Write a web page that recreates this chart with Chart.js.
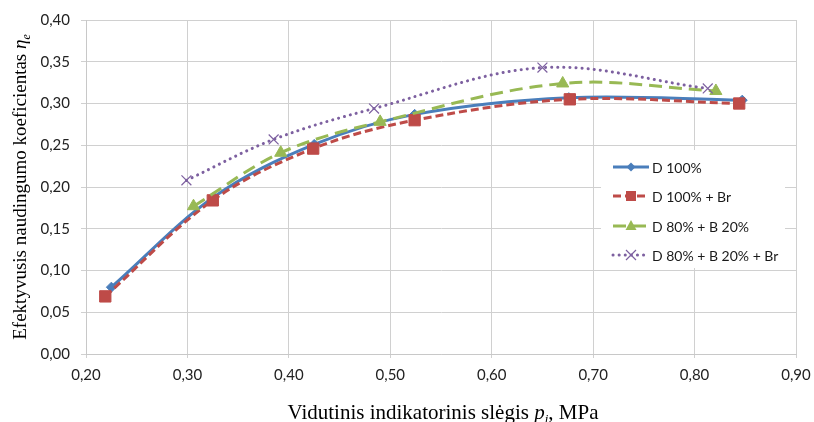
<!DOCTYPE html>
<html>
<head>
<meta charset="utf-8">
<script src="https://cdn.jsdelivr.net/npm/chart.js@4.4.0/dist/chart.umd.min.js"></script>
<style>
  html, body { margin: 0; padding: 0; background: #fff; }
  #wrap { width: 814px; height: 422px; }
</style>
</head>
<body>
<div id="wrap"><canvas id="chart" width="814" height="422"></canvas></div>
<script>
'use strict';

// values
const series_names = ['D 100%', 'D 100% + Br', 'D 80% + B 20%', 'D 80% + B 20% + Br'];

const x_d100 = [0.225, 0.326, 0.425, 0.524, 0.676, 0.847];
const y_d100 = [0.080, 0.188, 0.251, 0.287, 0.307, 0.304];

const x_d100_br = [0.219, 0.325, 0.424, 0.524, 0.677, 0.844];
const y_d100_br = [0.069, 0.184, 0.246, 0.280, 0.305, 0.300];

const x_d80_b20 = [0.306, 0.392, 0.490, 0.670, 0.821];
const y_d80_b20 = [0.177, 0.241, 0.278, 0.324, 0.315];

const x_d80_b20_br = [0.299, 0.385, 0.484, 0.650, 0.813];
const y_d80_b20_br = [0.208, 0.257, 0.294, 0.343, 0.318];

const x_ticks = [0.2, 0.3, 0.4, 0.5, 0.6, 0.7, 0.8, 0.9];
const y_ticks = [0, 0.05, 0.1, 0.15, 0.2, 0.25, 0.3, 0.35, 0.4];

const colors = ['#4A7EBB', '#BE4B48', '#98B954', '#7D60A0'];
const dashes = [[], [8, 4], [13, 7], [0.1, 6]];

function pts(xs, ys){
    var out = [];
    for( var i = 0 ; i < xs.length ; i++ ) out.push({ x: xs[i], y: ys[i] });
    return out;
}

function comma(v, d){
    return Number(v).toFixed(d).replace('.', ',');
}

// draws text made of several styled pieces (for italic symbols and subscripts)
// (cx, by) = centre of the text along its run, on the baseline
function drawRich(ctx, parts, cx, by, rot){
    ctx.save();
    ctx.translate(cx, by);
    if( rot ) ctx.rotate(rot);
    var total = 0;
    for( let p of parts ){
        ctx.font = p.font;
        p.w = ctx.measureText(p.text).width;
        total += p.w;
    }
    var x = -total / 2;
    ctx.fillStyle = '#000';
    ctx.textBaseline = 'alphabetic';
    ctx.textAlign = 'left';
    for( let p of parts ){
        ctx.font = p.font;
        ctx.fillText(p.text, x, p.dy || 0);
        x += p.w;
    }
    ctx.restore();
}

function drawMarker(ctx, style, x, y, color){
    ctx.save();
    ctx.setLineDash([]);
    ctx.fillStyle = color;
    ctx.strokeStyle = color;
    ctx.beginPath();
    if( style == 'rectRot' ){
        ctx.moveTo(x, y - 4.5); ctx.lineTo(x + 4.5, y); ctx.lineTo(x, y + 4.5); ctx.lineTo(x - 4.5, y);
        ctx.closePath(); ctx.fill();
    }else if( style == 'rect' ){
        ctx.fillRect(x - 5, y - 5, 10, 10);
    }else if( style == 'triangle' ){
        ctx.moveTo(x, y - 6); ctx.lineTo(x + 5.5, y + 4); ctx.lineTo(x - 5.5, y + 4);
        ctx.closePath(); ctx.fill();
    }else if( style == 'crossRot' ){
        ctx.lineWidth = 1.2;
        ctx.moveTo(x - 5, y - 5); ctx.lineTo(x + 5, y + 5);
        ctx.moveTo(x + 5, y - 5); ctx.lineTo(x - 5, y + 5);
        ctx.stroke();
    }
    ctx.restore();
}

const point_styles = ['rectRot', 'rect', 'triangle', 'crossRot'];
const point_radius = [5, 8, 7, 7];

const titles_plugin = {
    id: 'axis_titles',
    afterDraw: function(chart){
        const ctx = chart.ctx;
        const serif = '"Liberation Serif", "Times New Roman", serif';
        drawRich(ctx, [
            { text: 'Efektyvusis naudingumo koeficientas ', font: '19px ' + serif },
            { text: 'η', font: 'italic 19px ' + serif },
            { text: 'e', font: 'italic 12px ' + serif, dy: 4 },
        ], 26, 187, -Math.PI / 2);
        drawRich(ctx, [
            { text: 'Vidutinis indikatorinis slėgis ', font: '21px ' + serif },
            { text: 'p', font: 'italic 21px ' + serif },
            { text: 'i', font: 'italic 13px ' + serif, dy: 4 },
            { text: ', MPa', font: '21px ' + serif },
        ], 443, 419, 0);
    }
};

const legend_plugin = {
    id: 'box_legend',
    afterDatasetsDraw: function(chart){
        const ctx = chart.ctx;
        ctx.save();
        ctx.fillStyle = '#fff';
        ctx.fillRect(601, 150, 184, 118);
        const rows = [167, 196, 226, 255];
        for( var i = 0 ; i < series_names.length ; i++ ){
            var y = rows[i];
            ctx.save();
            ctx.strokeStyle = colors[i];
            ctx.lineWidth = 3;
            ctx.setLineDash(dashes[i]);
            ctx.lineCap = i == 3 ? 'round' : 'butt';
            ctx.beginPath();
            ctx.moveTo(613, y);
            ctx.lineTo(649, y);
            ctx.stroke();
            ctx.restore();
            drawMarker(ctx, point_styles[i], 631, y, colors[i]);
            ctx.fillStyle = '#1a1a1a';
            ctx.font = '14px Lato, "Open Sans", sans-serif';
            ctx.textBaseline = 'middle';
            ctx.textAlign = 'left';
            ctx.fillText(series_names[i], 652, y + 1);
        }
        ctx.restore();
    }
};

const all_x = [x_d100, x_d100_br, x_d80_b20, x_d80_b20_br];
const all_y = [y_d100, y_d100_br, y_d80_b20, y_d80_b20_br];

var datasets = [];
for( var i = 0 ; i < series_names.length ; i++ ){
    datasets.push({
        label: series_names[i],
        data: pts(all_x[i], all_y[i]),
        borderColor: colors[i],
        backgroundColor: colors[i],
        borderWidth: 3,
        borderDash: dashes[i],
        borderCapStyle: i == 3 ? 'round' : 'butt',
        tension: 0.35,
        pointStyle: point_styles[i],
        pointRadius: point_radius[i],
        pointBorderWidth: i == 3 ? 1.2 : 1,
        pointBackgroundColor: colors[i],
        pointBorderColor: colors[i],
        order: 4 - i,
    });
}

const tick_font = { family: 'Lato, "Open Sans", sans-serif', size: 15 };

const ctx = document.getElementById('chart').getContext('2d');
window.chart = new Chart(ctx, {
    type: 'line',
    data: { datasets: datasets },
    options: {
        responsive: false,
        animation: false,
        layout: { padding: { left: 0, top: 19, right: 18, bottom: 0 } },
        plugins: {
            legend: { display: false },
            tooltip: { enabled: false },
        },
        scales: {
            x: {
                type: 'linear',
                min: 0.2,
                max: 0.9,
                afterBuildTicks: function(scale){
                    scale.ticks = x_ticks.map(v => ({ value: v }));
                },
                afterFit: function(scale){
                    scale.height = 68;
                    scale.paddingLeft = 0;
                    scale.paddingRight = 0;
                },
                ticks: {
                    font: tick_font,
                    color: '#222',
                    padding: 8,
                    maxRotation: 0,
                    callback: v => comma(v, 2),
                },
                grid: { color: '#d0d0d0', tickLength: 4, lineWidth: 1 },
                border: { color: '#c8c8c8' },
            },
            y: {
                min: 0,
                max: 0.4,
                afterBuildTicks: function(scale){
                    scale.ticks = y_ticks.map(v => ({ value: v }));
                },
                afterFit: function(scale){ scale.width = 86; },
                ticks: {
                    font: tick_font,
                    color: '#222',
                    padding: 11,
                    callback: v => comma(v, 2),
                },
                grid: { color: '#d0d0d0', tickLength: 5, lineWidth: 1 },
                border: { color: '#c8c8c8' },
            },
        },
    },
    plugins: [titles_plugin, legend_plugin],
});
</script>
</body>
</html>
